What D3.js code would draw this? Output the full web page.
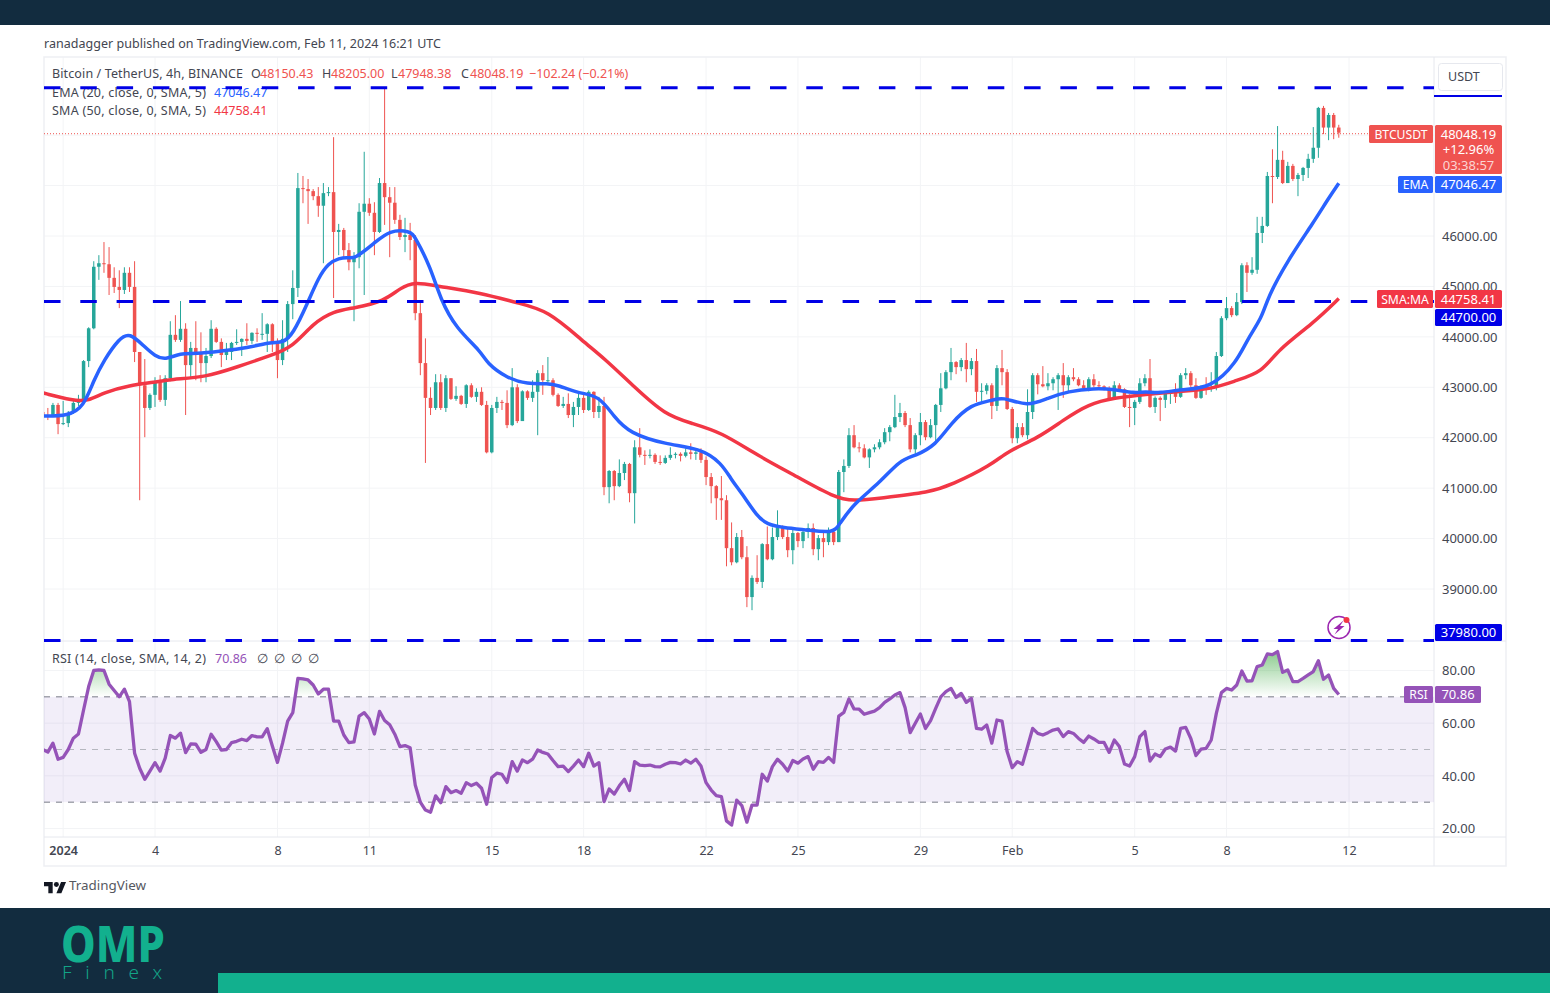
<!DOCTYPE html>
<html>
<head>
<meta charset="utf-8">
<title>BTCUSDT 4h</title>
<script src="https://cdn.jsdelivr.net/npm/d3@7"></script>
<style>
  html, body { margin: 0; padding: 0; background: #fff; }
  svg { display: block; }
  text { font-family: "Noto Sans", sans-serif; }
</style>
</head>
<body>
<svg id="chart" width="1550" height="993"></svg>
<script>
// 4h candles, first one is Dec 31 08:00 UTC. every open is the close before it
var firstOpen = 42510;
var firstCandle = Date.UTC(2023, 11, 31, 8);

var closes = [
  42450,42430,42650,42270,42290,42490,42690,42750,43520,44170,
  45390,45460,45440,45170,44990,44930,45270,44990,43700,43040,
  42590,42850,43100,42750,43180,44040,43940,44160,43440,43780,
  43680,43480,43620,44160,43900,43640,43700,43880,43900,43960,
  43920,44080,44060,44060,44250,43880,43540,43960,44650,44970,
  46950,46930,46890,46790,46600,46850,46870,46080,46120,45720,
  45480,45580,46480,46640,46460,46080,47050,46770,46660,46320,
  45980,46020,45920,44470,43480,42790,42590,43100,42590,43180,
  42770,42830,42670,43040,42810,42910,42650,41710,42590,42710,
  42690,42250,43000,42330,42920,42790,42910,43280,43140,43140,
  42850,42630,42670,42450,42610,42790,42550,42910,42510,42630,
  41020,41340,41040,41300,41480,40900,41810,41660,41640,41660,
  41520,41500,41600,41660,41680,41640,41710,41680,41710,41560,
  41220,41040,40800,40760,39810,39530,40030,39630,38840,39220,
  39140,39890,39590,40030,40230,40030,39770,40110,39950,40130,
  40210,39790,40010,39930,40130,39930,41320,41440,42050,41810,
  41790,41610,41770,41810,41910,42110,42210,42410,42490,42250,
  41770,42050,42310,42010,42250,42650,42980,43300,43500,43400,
  43540,43360,43520,42910,42930,43040,42630,43380,43300,42570,
  41990,42210,42050,42510,43240,43060,43020,43080,43160,43240,
  43040,43200,43160,43040,42980,43160,43040,43020,42960,42770,
  43040,42960,42610,42590,42710,43080,43180,42610,42790,42750,
  42890,42890,42810,43240,43280,43040,42790,43000,42980,43000,
  43620,44370,44570,44430,44690,45420,45270,45330,46060,46200,
  47190,47170,47510,47050,47390,47130,47210,47350,47530,47750,48540,48150.43,48400,48150.43,48048.19
];

var highs = [
  42530,42590,42690,42690,42730,42530,42730,42850,43540,44190,
  45500,45620,45880,45780,45380,45320,45380,45380,45500,43700,
  43560,42880,43200,43240,43240,44310,44430,44710,44270,43900,
  44310,44090,43780,44330,44190,43970,43880,43900,44150,43970,
  44270,44090,44170,44470,44270,44270,43970,44330,44710,45320,
  47250,47190,47130,46930,46970,47050,46970,47960,46240,46160,
  45860,45680,46650,47670,46750,46670,47150,48940,46970,46970,
  46420,46360,46260,46020,44670,43970,43000,43260,43260,43240,
  43180,43020,42850,43060,43080,42980,43000,42730,42650,42810,
  42750,42940,43380,43060,42940,42940,43140,43340,43440,43600,
  43180,42880,42810,42880,42710,42880,42850,42940,42920,42810,
  42810,41360,41360,41570,41520,41500,41950,42190,41750,41770,
  41690,41650,41650,41810,41710,41710,41790,41890,41750,41790,
  41630,41300,41060,41240,40860,40320,40110,40170,39850,39270,
  39670,39910,40240,40220,40560,40260,40200,40170,40130,40170,
  40300,40300,40070,40130,40220,40170,41360,41570,42190,42250,
  41910,41870,41790,41870,41970,42190,42250,42850,42690,42530,
  42390,42090,42490,42350,42370,42670,43280,43340,43780,43520,
  43580,43880,43580,43760,43080,43080,43080,43440,43740,43360,
  42610,42290,42290,42960,43280,43280,43420,43280,43200,43280,
  43480,43240,43380,43200,43140,43200,43260,43120,43040,43020,
  43120,43080,42980,42860,42750,43180,43260,43560,42820,42820,
  42920,42940,43080,43280,43380,43320,43180,43040,43200,43300,
  43700,44410,44790,44610,44870,45460,45480,45580,46380,46380,
  47270,47720,48180,47690,47470,47430,47250,47370,47630,48160,48560,48580,48440,48440,48205
];

var lows = [
  42390,42350,42410,42070,42250,42210,42470,42630,42690,43400,
  44150,45130,45270,44830,44870,44570,44850,44890,43500,40760,
  42010,42550,42610,42710,42630,43120,43900,43900,42450,43200,
  43140,43100,43100,43580,43880,43400,43540,43540,43840,43620,
  43840,43860,43900,43940,43700,43700,43180,43440,43700,44350,
  44790,46650,46240,46710,46380,45460,46790,44770,45620,45580,
  45320,44310,45360,44830,46400,45620,46060,46220,45580,46240,
  45920,45680,45520,44330,43240,41500,42450,42550,42550,42510,
  42750,42730,42650,42590,42790,42710,42630,41690,41690,42490,
  42550,42190,42230,42290,42470,42750,42710,42050,42850,43080,
  42820,42610,42590,42390,42210,42450,42490,42530,42390,42390,
  40860,40700,40760,41020,41160,40720,40300,41610,41460,41590,
  41480,41460,41480,41560,41590,41530,41610,41570,41560,41500,
  41060,40700,40370,40370,39450,39470,39510,39590,38640,38580,
  39100,39020,39570,39570,39970,39990,39630,39490,39830,39810,
  40010,39670,39570,39630,39870,39870,39930,40920,41400,41790,
  41710,41590,41400,41710,41770,41870,41930,42190,42310,42210,
  41710,41670,41850,41950,41990,41930,42510,42960,43140,43260,
  43320,43100,43240,42710,42710,42860,42370,42530,43040,42550,
  41890,41890,42010,41970,42370,42860,43000,42940,42940,42550,
  42790,42920,43120,43020,42940,42920,43000,42980,42940,42750,
  42770,42920,42590,42210,42250,42670,43020,42590,42490,42330,
  42590,42670,42690,42790,43160,43000,42770,42770,42850,42910,
  42940,43600,44330,44390,44410,44650,44890,45230,45250,45860,
  46180,46650,47130,47030,47050,47090,46790,47090,47150,47450,47550,48020,47900,47920,47948.38
];

// moving averages, read at the candle numbers listed
var emaCandles = [0,5,8,10,12,15,17,20,22,24,27,30,35,40,45,47,49,52,54,56,58,60,61,65,68,72,73,76,78,81,86,87,91,95,99,101,105,109,112,115,122,129,133,135,137,140,142,145,150,155,156,159,164,168,171,175,178,182,186,188,193,197,201,206,210,214,216,219,223,229,234,236,239,240,244,249,252,254];
var emaValues = [42430,42430,42610,43140,43540,43970,44090,43800,43620,43540,43680,43660,43720,43780,43900,43880,44040,44690,45170,45460,45560,45580,45540,45860,46120,46100,45980,45380,44730,44170,43700,43480,43180,43060,43080,43040,42880,42840,42410,42090,41870,41790,41500,41160,40900,40440,40280,40220,40170,40110,40270,40700,41100,41560,41640,41850,42290,42670,42730,42820,42610,42790,42920,42980,42960,42880,42920,42880,42960,42980,43500,43940,44390,44770,45520,46260,46750,47046.47];
var smaCandles = [0,6,9,12,17,22,25,32,38,45,49,53,57,61,67,70,73,77,86,93,99,106,110,116,122,127,133,140,148,155,159,164,174,178,186,189,195,200,205,210,216,223,229,234,239,242,249,254];
var smaValues = [42890,42730,42730,42900,43040,43100,43160,43200,43400,43640,43800,44270,44510,44570,44710,44970,45090,45010,44870,44670,44530,43900,43580,43000,42450,42290,42110,41650,41220,40820,40740,40800,40920,41060,41460,41730,41990,42350,42670,42790,42860,42920,42960,43140,43300,43740,44270,44758.41];

var rsiValues = [
  50,49,52.4,46.3,47,50,54.3,55.9,65,73.9,
  80,80.2,80,74.8,72.4,70,72.9,68.2,48.6,42.9,
  38.7,41.8,45,41.8,46.7,55.3,54.3,56.2,48.8,52.1,
  52,48.9,50,55.8,53,49.8,50,52.6,53.1,53.9,
  53.4,55.3,54.8,54.8,57.9,51.3,45.1,52.4,60.8,64,
  77,76.8,76.4,74.5,71.1,72.9,72.9,60.8,60.8,55.5,
  52.6,52.9,62.7,64,61.6,55.9,64.5,61,59.4,55.8,
  51.1,51.5,50.7,36.5,30,27,26.2,32.4,29.8,35.9,
  33.6,34.4,33.4,37.4,36.3,37.2,35.3,29.2,39.4,41,
  40.6,37.5,45.4,41.8,46,45,46.3,49.8,48.9,48.3,
  45.8,43.5,43.7,41.6,43.7,46,43.5,48.6,43.7,45,
  30.2,35,33.1,36.2,38.7,34.4,45.4,44.1,43.9,44.1,
  43.5,43.4,44.4,45.1,45,44.5,46,44.8,46.3,43.7,
  37.4,34.6,32.5,32.1,22.9,21.3,30.8,28.7,22.4,28.9,
  28.9,40.6,38,43.5,46.3,44.4,41.8,45.8,44.8,46.4,
  47.3,42.5,45.4,45.1,47,45.1,62.7,64.1,69.2,65.4,
  65.3,63.4,64,64.6,65.9,67.9,69.2,70.7,71.6,65.9,
  56.4,60,63.5,58,61,65.6,70,72,73.2,69.8,
  71.3,67.9,69.4,58,57.7,59.3,52.4,61.2,60.8,49.2,
  43.1,45.4,44.4,51.1,58,56.1,55.5,56.4,57.4,57.8,
  54.9,56.8,56.1,54.2,52.7,55.1,54,52.7,52.7,48.9,
  53.6,51.1,44.5,43.7,47.3,54.9,56.8,45.6,48.3,47.3,
  50.2,50.9,49.4,58,58.4,54.2,47.7,50.1,50.4,53.6,
  63.7,71.6,73.2,72.6,74.5,79.8,76,76.1,81.5,82.1,
  86.3,86,87.2,79.3,80.2,75.8,75.8,77,78.3,79.6,83.7,76.7,78.3,73.2,70.86
];

// axis ticks and the drawn horizontals
var priceTicks = [39000,40000,41000,42000,43000,44000,45000,46000,47000,48000];
var rsiTicks = [20,40,60,80];
var rsiBands = [70,50,30];
var hLevels = [48940,44700,37980];
var timeTicks = [[2024,0,1],[2024,0,4],[2024,0,8],[2024,0,11],[2024,0,15],[2024,0,18],[2024,0,22],[2024,0,25],[2024,0,29],[2024,1,1],[2024,1,5],[2024,1,8],[2024,1,12]];
var timeLabels = ["2024","4","8","11","15","18","22","25","29","Feb","5","8","12"];

var left = 44, right = 1434, frameR = 1506, top0 = 57, paneSplit = 641, axisY = 837, frameB = 866;
var GREEN = "#26a69a", RED = "#ef5350", BLUE = "#2962ff", MARKRED = "#f23645", LEVEL = "#0000e6", PURPLE = "#9553b8", INK = "#434651";

var svg = d3.select("#chart");
var defs = svg.append("defs");

// scales
var x = d3.scaleUtc().domain([Date.UTC(2024,0,4), Date.UTC(2024,1,12)]).range([155, 1349]);
var y = d3.scaleLinear().domain([46000, 39000]).range([236, 589]);
var yRsi = d3.scaleLinear().domain([80, 20]).range([670.5, 828.5]);
var candleTime = i => firstCandle + i * 4 * 3600 * 1000;

var candles = closes.map((c, i) => ({
  t: candleTime(i),
  o: i == 0 ? firstOpen : closes[i - 1],
  h: highs[i],
  l: lows[i],
  c: c
}));

// page bands
svg.append("rect").attr("width", 1550).attr("height", 993).attr("fill", "#fff");
svg.append("rect").attr("width", 1550).attr("height", 25).attr("fill", "#122c3f");
svg.append("rect").attr("y", 908).attr("width", 1550).attr("height", 85).attr("fill", "#122c3f");
svg.append("rect").attr("x", 218).attr("y", 973).attr("width", 1332).attr("height", 20).attr("fill", "#12b08e");

// clips
defs.append("clipPath").attr("id", "clipPrice").append("rect")
  .attr("x", left).attr("y", top0).attr("width", right - left).attr("height", paneSplit - top0);
defs.append("clipPath").attr("id", "clipRsi").append("rect")
  .attr("x", left).attr("y", paneSplit).attr("width", right - left).attr("height", axisY - paneSplit);
defs.append("clipPath").attr("id", "clipOver").append("rect")
  .attr("x", left).attr("y", paneSplit).attr("width", right - left).attr("height", yRsi(70) - paneSplit);
defs.append("clipPath").attr("id", "clipUnder").append("rect")
  .attr("x", left).attr("y", yRsi(30)).attr("width", right - left).attr("height", axisY - yRsi(30));

// grid
var grid = svg.append("g").attr("stroke", "#f3f4f6").attr("stroke-width", 1);
priceTicks.forEach(p => {
  grid.append("line").attr("x1", left).attr("x2", right).attr("y1", y(p)).attr("y2", y(p));
});
rsiTicks.forEach(r => {
  grid.append("line").attr("x1", left).attr("x2", right).attr("y1", yRsi(r)).attr("y2", yRsi(r));
});
timeTicks.forEach(d => {
  var tx = x(Date.UTC(d[0], d[1], d[2]));
  grid.append("line").attr("x1", tx).attr("x2", tx).attr("y1", top0).attr("y2", axisY);
});

// frame
var frame = svg.append("g").attr("stroke", "#e6e8ee").attr("fill", "none");
frame.append("rect").attr("x", left).attr("y", top0).attr("width", frameR - left).attr("height", frameB - top0).attr("stroke", "#eeeff3").attr("stroke-width", 1.5);
frame.append("line").attr("x1", right).attr("x2", right).attr("y1", top0).attr("y2", frameB);
frame.append("line").attr("x1", left).attr("x2", frameR).attr("y1", paneSplit).attr("y2", paneSplit);
frame.append("line").attr("x1", left).attr("x2", frameR).attr("y1", axisY).attr("y2", axisY);

// price axis
var priceAxis = d3.axisRight(y).tickValues(priceTicks).tickSize(0).tickPadding(0).tickFormat(d3.format(".2f"));
svg.append("g").attr("transform", "translate(1442,0)").call(priceAxis)
  .call(g => g.select(".domain").remove())
  .selectAll("text").attr("font-size", 13).attr("fill", INK).attr("font-family", '"Noto Sans", sans-serif');

var rsiAxis = d3.axisRight(yRsi).tickValues(rsiTicks).tickSize(0).tickPadding(0).tickFormat(d3.format(".2f"));
svg.append("g").attr("transform", "translate(1442,0)").call(rsiAxis)
  .call(g => g.select(".domain").remove())
  .selectAll("text").attr("font-size", 13).attr("fill", INK).attr("font-family", '"Noto Sans", sans-serif');

// time axis
var timeValues = timeTicks.map(d => Date.UTC(d[0], d[1], d[2]));
var timeAxis = d3.axisBottom(x).tickValues(timeValues).tickSize(0).tickPadding(0)
  .tickFormat((d, i) => timeLabels[i]);
svg.append("g").attr("transform", "translate(0,846.5)").call(timeAxis)
  .call(g => g.select(".domain").remove())
  .selectAll("text").attr("font-size", 12.5).attr("fill", INK).attr("font-family", '"Noto Sans", sans-serif')
  .attr("font-weight", (d, i) => i == 0 ? 600 : 400);

// last price dotted line
svg.append("line").attr("x1", left).attr("x2", 1369).attr("y1", y(48048.19) + 1).attr("y2", y(48048.19) + 1)
  .attr("stroke", RED).attr("stroke-width", 1).attr("stroke-dasharray", "1 2");

// candles
var pricePane = svg.append("g").attr("clip-path", "url(#clipPrice)");
pricePane.selectAll("line.wick").data(candles).join("line").attr("class", "wick")
  .attr("x1", d => x(d.t)).attr("x2", d => x(d.t))
  .attr("y1", d => y(d.h)).attr("y2", d => y(d.l))
  .attr("stroke", d => d.c >= d.o ? GREEN : RED).attr("stroke-width", 1);
pricePane.selectAll("rect.body").data(candles).join("rect").attr("class", "body")
  .attr("x", d => x(d.t) - 1.75).attr("width", 3.5)
  .attr("y", d => y(Math.max(d.o, d.c)))
  .attr("height", d => Math.max(1, Math.abs(y(d.o) - y(d.c))))
  .attr("fill", d => d.c >= d.o ? GREEN : RED);

// moving averages
var maLine = d3.line().x(d => x(candleTime(d[0]))).y(d => y(d[1])).curve(d3.curveBasis);
pricePane.append("path").attr("d", maLine(d3.zip(smaCandles, smaValues)))
  .attr("fill", "none").attr("stroke", MARKRED).attr("stroke-width", 3.5);
pricePane.append("path").attr("d", maLine(d3.zip(emaCandles, emaValues)))
  .attr("fill", "none").attr("stroke", BLUE).attr("stroke-width", 3.5);

// legend text, the dashes go over it later
function label(txt, lx, ly, fill, size, weight) {
  return svg.append("text").attr("x", lx).attr("y", ly).attr("fill", fill)
    .attr("font-size", size || 12.5).attr("font-weight", weight || 400).text(txt);
}
label("ranadagger published on TradingView.com, Feb 11, 2024 16:21 UTC", 44, 48, INK).attr("textLength", 397);
label("Bitcoin / TetherUS, 4h, BINANCE", 52, 78, INK).attr("textLength", 191);
var ohlcLabels = ["O", "H", "L", "C"], ohlcValues = ["48150.43", "48205.00", "47948.38", "48048.19"], ohlcX = [251, 322, 391, 461];
ohlcLabels.forEach((l, i) => {
  label(l, ohlcX[i], 78, INK);
  label(ohlcValues[i], ohlcX[i] + (l == "L" ? 7 : 9), 78, RED);
});
label("\u2212102.24 (\u22120.21%)", 529, 78, RED);
label("EMA (20, close, 0, SMA, 5)", 52, 97, INK).attr("textLength", 154);
label("47046.47", 214, 97, BLUE);
label("SMA (50, close, 0, SMA, 5)", 52, 115, INK).attr("textLength", 154);
label("44758.41", 214, 115, MARKRED);
label("RSI (14, close, SMA, 14, 2)", 52, 663, INK).attr("textLength", 154);
label("70.86", 215, 663, PURPLE);
[257, 274, 291, 308].forEach(lx => label("\u2205", lx, 663, INK));

// horizontal levels
hLevels.forEach(p => {
  svg.append("line").attr("x1", left).attr("x2", right).attr("y1", y(p)).attr("y2", y(p))
    .attr("stroke", LEVEL).attr("stroke-width", 3).attr("stroke-dasharray", "16.5 19.8");
});
svg.append("line").attr("x1", right).attr("x2", 1502).attr("y1", 96).attr("y2", 96).attr("stroke", LEVEL).attr("stroke-width", 2);

// RSI pane
var rsiPoints = d3.zip(candles.map(d => d.t), rsiValues);
var band = svg.append("g");
band.append("rect").attr("x", left).attr("width", right - left)
  .attr("y", yRsi(70)).attr("height", yRsi(30) - yRsi(70)).attr("fill", "#7e57c2").attr("fill-opacity", 0.1);
rsiBands.forEach(r => {
  band.append("line").attr("x1", left).attr("x2", right).attr("y1", yRsi(r)).attr("y2", yRsi(r))
    .attr("stroke", r == 50 ? "#b5b7bf" : "#787b86").attr("stroke-width", 1).attr("stroke-dasharray", "6 6");
});

var gradOver = defs.append("linearGradient").attr("id", "gradOver").attr("gradientUnits", "userSpaceOnUse")
  .attr("x1", 0).attr("x2", 0).attr("y1", yRsi(86)).attr("y2", yRsi(70));
gradOver.append("stop").attr("offset", 0).attr("stop-color", "#4caf50").attr("stop-opacity", 0.6);
gradOver.append("stop").attr("offset", 1).attr("stop-color", "#4caf50").attr("stop-opacity", 0);
var gradUnder = defs.append("linearGradient").attr("id", "gradUnder").attr("gradientUnits", "userSpaceOnUse")
  .attr("x1", 0).attr("x2", 0).attr("y1", yRsi(30)).attr("y2", yRsi(20));
gradUnder.append("stop").attr("offset", 0).attr("stop-color", "#ff5252").attr("stop-opacity", 0);
gradUnder.append("stop").attr("offset", 1).attr("stop-color", "#ff5252").attr("stop-opacity", 0.35);

var rsiX = d => x(d[0]);
var areaOver = d3.area().x(rsiX).y0(yRsi(70)).y1(d => yRsi(d[1]));
var areaUnder = d3.area().x(rsiX).y0(yRsi(30)).y1(d => yRsi(d[1]));
svg.append("g").attr("clip-path", "url(#clipOver)").append("path").attr("d", areaOver(rsiPoints)).attr("fill", "url(#gradOver)");
svg.append("g").attr("clip-path", "url(#clipUnder)").append("path").attr("d", areaUnder(rsiPoints)).attr("fill", "url(#gradUnder)");

svg.append("g").attr("clip-path", "url(#clipRsi)").append("path")
  .attr("d", d3.line().x(rsiX).y(d => yRsi(d[1]))(rsiPoints))
  .attr("fill", "none").attr("stroke", PURPLE).attr("stroke-width", 3.3).attr("stroke-linejoin", "round");

// tags on the price scale
function tag(tx, ty, w, h, fill, txt, size) {
  svg.append("rect").attr("x", tx).attr("y", ty).attr("width", w).attr("height", h).attr("rx", 1.5).attr("fill", fill);
  if (txt) {
    svg.append("text").attr("x", tx + w / 2).attr("y", ty + h / 2 + 4.5).attr("text-anchor", "middle")
      .attr("font-size", size || 13).attr("fill", "#fff").text(txt);
  }
}
tag(1369, 125, 64, 18, RED, "BTCUSDT", 12.2);
tag(1435, 125, 67, 49, RED);
[["48048.19", 139, "#fff"], ["+12.96%", 154, "#fff"], ["03:38:57", 170, "#fbd5d4"]].forEach(r => {
  svg.append("text").attr("x", 1468.5).attr("y", r[1]).attr("text-anchor", "middle")
    .attr("font-size", 13).attr("fill", r[2]).text(r[0]);
});
tag(1398, 176, 35, 17, BLUE, "EMA", 12.2);
tag(1435, 176, 67, 17, BLUE, "47046.47");
tag(1377, 290, 56, 18, MARKRED, "SMA:MA", 12.2);
tag(1435, 290, 67, 18, MARKRED, "44758.41");
tag(1435, 309, 67, 17, LEVEL, "44700.00");
tag(1435, 624, 67, 17, LEVEL, "37980.00");
tag(1404, 686, 29, 17, PURPLE, "RSI", 12.2);
tag(1435, 686, 46, 17, PURPLE, "70.86");

// currency button
svg.append("rect").attr("x", 1438.5).attr("y", 63.5).attr("width", 64).attr("height", 27).attr("rx", 3)
  .attr("fill", "#fff").attr("stroke", "#e6e8ee");
label("USDT", 1448, 81, INK, 12.5);

// bolt icon
var bolt = svg.append("g").attr("transform", "translate(1339,627.5)");
bolt.append("circle").attr("r", 11).attr("fill", "#fff").attr("stroke", "#9c27b0").attr("stroke-width", 1.5);
bolt.append("path").attr("d", "M4.5,-7 L-5.5,1.5 L-1,1.5 L-4.5,7 L5.5,-1.5 L1,-1.5 Z").attr("fill", "#9c27b0");
bolt.append("circle").attr("cx", 7.5).attr("cy", -7.5).attr("r", 3).attr("fill", MARKRED);

// tradingview mark
var tv = svg.append("g").attr("transform", "translate(44,879.5) scale(0.62)").attr("fill", "#131722");
tv.append("path").attr("d", "M14 22H7V11H0V4h14v18zM28 22h-8l7.5-18h8L28 22z");
tv.append("circle").attr("cx", 20).attr("cy", 8).attr("r", 4);
label("TradingView", 69, 890, "#55585f", 13.4);

// omp logo
svg.append("text").attr("x", 61).attr("y", 962).attr("font-size", 49).attr("font-weight", 800)
  .attr("font-family", "Inter, sans-serif").attr("fill", "#12b08e")
  .attr("textLength", 104).attr("lengthAdjust", "spacingAndGlyphs").text("OMP");
svg.append("text").attr("x", 62).attr("y", 979).attr("font-size", 19).attr("font-weight", 300)
  .attr("font-family", "Inter, sans-serif").attr("fill", "#12a387")
  .attr("textLength", 100).text("Finex");
</script>
</body>
</html>
